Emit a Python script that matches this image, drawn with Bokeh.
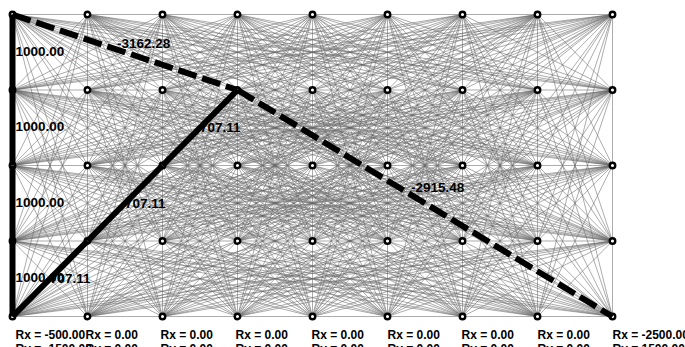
from math import gcd
from bokeh.plotting import figure
from bokeh.models import Range1d
from bokeh.core.properties import value
from bokeh.embed import file_html
from bokeh.resources import INLINE

# ---- data ----
n_cols = 9
n_rows = 5
node_x = [float(i) for i in range(n_cols)]
node_y = [float(j) for j in range(n_rows)]

# optimized members: (x0, y0, x1, y1), force
mem_x0 = [0, 0, 0, 0, 0, 1, 2, 0, 3]
mem_y0 = [4, 3, 2, 1, 0, 1, 2, 4, 3]
mem_x1 = [0, 0, 0, 0, 1, 2, 3, 3, 8]
mem_y1 = [3, 2, 1, 0, 1, 2, 3, 3, 0]
mem_force = [1000.00, 1000.00, 1000.00, 1000.00, 707.11, 707.11, 707.11, -3162.28, -2915.48]

# support reactions at bottom nodes
rx = [-500.00, 0.00, 0.00, 0.00, 0.00, 0.00, 0.00, 0.00, -2500.00]
ry = [-1500.00, 0.00, 0.00, 0.00, 0.00, 0.00, 0.00, 0.00, 1500.00]

# ---- styling / layout ----
W, H = 685, 347
px_x, px_y = 75.0, 75.5
left_px, top_px = 12.0, 14.0
x_start = -left_px / px_x
x_end = x_start + W / px_x
y_end = (n_rows - 1) + top_px / px_y
y_start = y_end - H / px_y

FONT = value("Liberation Sans")

p = figure(width=W, height=H, output_backend="svg", toolbar_location=None,
           x_range=Range1d(x_start, x_end), y_range=Range1d(y_start, y_end),
           min_border=0, min_border_left=0, min_border_right=0,
           min_border_top=0, min_border_bottom=0)
p.xaxis.visible = False
p.yaxis.visible = False
p.grid.visible = False
p.outline_line_color = None
p.background_fill_color = "white"
p.border_fill_color = "white"

# ground structure: all node pairs without an intermediate node
nodes = [(x, y) for y in node_y for x in node_x]
gx0, gy0, gx1, gy1 = [], [], [], []
for a in range(len(nodes)):
    for b in range(a + 1, len(nodes)):
        dx = int(abs(nodes[a][0] - nodes[b][0]))
        dy = int(abs(nodes[a][1] - nodes[b][1]))
        if gcd(dx, dy) != 1:
            continue
        gx0.append(nodes[a][0]); gy0.append(nodes[a][1])
        gx1.append(nodes[b][0]); gy1.append(nodes[b][1])
p.segment(x0=gx0, y0=gy0, x1=gx1, y1=gy1, line_color="#6a6a6a",
          line_width=0.7, line_alpha=0.8)

# nodes
p.scatter([n[0] for n in nodes], [n[1] for n in nodes], marker="circle",
          size=5.5, line_color="black", line_width=2.4, fill_color="white")

# members
tens = [i for i, f in enumerate(mem_force) if f > 0]
comp = [i for i, f in enumerate(mem_force) if f < 0]
p.segment(x0=[mem_x0[i] for i in tens], y0=[mem_y0[i] for i in tens],
          x1=[mem_x1[i] for i in tens], y1=[mem_y1[i] for i in tens],
          line_color="black", line_width=6)
p.segment(x0=[mem_x0[i] for i in comp], y0=[mem_y0[i] for i in comp],
          x1=[mem_x1[i] for i in comp], y1=[mem_y1[i] for i in comp],
          line_color="black", line_width=6, line_dash="19 6")

# member labels at midpoints
lab_dx = [3, 3, 3, 3, 0, 0, 0, -8, -14]
lab_dy = [-1, -1, -1, -1, 0, 0, 0, -9, -16]
mid_x = [(a + b) / 2 for a, b in zip(mem_x0, mem_x1)]
mid_y = [(a + b) / 2 for a, b in zip(mem_y0, mem_y1)]
p.text(x=mid_x, y=mid_y, text=["%.2f" % f for f in mem_force],
       x_offset=lab_dx, y_offset=lab_dy, text_font=FONT,
       text_font_style="bold", text_font_size="13.5px", text_color="black",
       text_align="left", text_baseline="alphabetic")

# reaction labels
rx_dx = [3, -2, -2, -2, -1, 0, -1, 0, 0]
p.text(x=node_x, y=[0.0] * n_cols, text=["Rx = %.2f" % v for v in rx],
       x_offset=rx_dx, y_offset=18, text_font=FONT, text_font_style="bold",
       text_font_size="12px", text_color="black", text_align="left",
       text_baseline="alphabetic")
p.text(x=node_x, y=[0.0] * n_cols, text=["Ry = %.2f" % v for v in ry],
       x_offset=rx_dx, y_offset=32, text_font=FONT, text_font_style="bold",
       text_font_size="12px", text_color="black", text_align="left",
       text_baseline="alphabetic")

open("out.html", "w").write(file_html(p, INLINE))
